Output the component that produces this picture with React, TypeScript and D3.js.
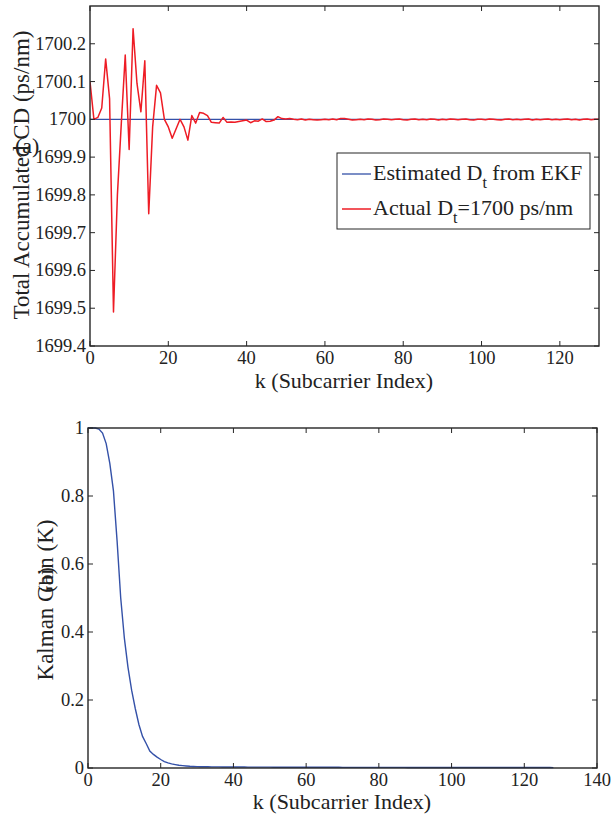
import React from "react";
import * as d3 from "d3";

// ---------- data ----------
const actualDt: number[] = [
  1700.10, 1700.00, 1700.005, 1700.03, 1700.16, 1700.055, 1699.49, 1699.80, 1699.99, 1700.17,
  1699.92, 1700.24, 1700.095, 1700.02, 1700.155, 1699.75, 1699.98, 1700.09, 1700.07, 1700.00,
  1699.98, 1699.95, 1699.975, 1700.00, 1699.98, 1699.945, 1700.01, 1699.99, 1700.018, 1700.016,
  1700.01, 1699.992, 1699.991, 1699.99, 1700.005, 1699.992, 1699.993, 1699.992, 1699.994, 1699.996,
  1699.998, 1699.991, 1699.996, 1699.995, 1700.001, 1699.994, 1699.995, 1699.998, 1700.007, 1700.002,
  1700.001, 1700.002, 1700.0, 1699.999, 1700.001, 1699.998, 1700.0, 1699.999, 1699.998, 1699.999,
  1700.0, 1699.999, 1700.001, 1699.999, 1700.002, 1700.002, 1700.0, 1699.998, 1699.999, 1700.0,
  1699.999, 1700.001, 1700.0, 1699.998, 1699.999, 1700.001, 1700.0, 1699.999, 1700.0, 1700.001,
  1699.999, 1699.998, 1700.0, 1700.001, 1699.999, 1700.0, 1699.999, 1700.001, 1700.0, 1699.998,
  1700.0, 1699.999, 1700.001, 1700.0, 1699.999, 1700.0, 1700.001, 1699.999, 1699.998, 1700.0,
  1700.0, 1699.999, 1700.001, 1700.0, 1699.999, 1699.998, 1700.0, 1700.001, 1699.999, 1700.0,
  1699.999, 1700.0, 1700.001, 1699.998, 1700.0, 1699.999, 1700.0, 1700.001, 1699.999, 1700.0,
  1699.999, 1700.0, 1700.001, 1699.999, 1700.0, 1699.998, 1700.0, 1700.001, 1699.999, 1700.0,
  1700.0,
];
const estimatedK: number[] = [0, 130];
const estimatedDt: number[] = [1700, 1700];

const kalmanGain: number[] = [
  1.000, 1.000, 1.000, 0.997, 0.985, 0.954, 0.896, 0.815, 0.668, 0.50,
  0.382, 0.296, 0.229, 0.175, 0.128, 0.093, 0.072, 0.050, 0.040, 0.032,
  0.025, 0.019, 0.015, 0.012, 0.010, 0.008, 0.007, 0.006, 0.005, 0.0045,
  0.004, 0.0038, 0.0036, 0.0035, 0.0034, 0.0033, 0.0032, 0.0031, 0.0030, 0.0030,
  0.0029, 0.0029, 0.0028, 0.0028, 0.0027, 0.0027, 0.0026, 0.0026, 0.0025, 0.0025,
  0.0025, 0.0024, 0.0024, 0.0024, 0.0023, 0.0023, 0.0023, 0.0022, 0.0022, 0.0022,
  0.0022, 0.0021, 0.0021, 0.0021, 0.0021, 0.0020, 0.0020, 0.0020, 0.0020, 0.0020,
  0.0019, 0.0019, 0.0019, 0.0019, 0.0019, 0.0018, 0.0018, 0.0018, 0.0018, 0.0018,
  0.0018, 0.0017, 0.0017, 0.0017, 0.0017, 0.0017, 0.0017, 0.0017, 0.0016, 0.0016,
  0.0016, 0.0016, 0.0016, 0.0016, 0.0016, 0.0016, 0.0015, 0.0015, 0.0015, 0.0015,
  0.0015, 0.0015, 0.0015, 0.0015, 0.0015, 0.0014, 0.0014, 0.0014, 0.0014, 0.0014,
  0.0014, 0.0014, 0.0014, 0.0014, 0.0014, 0.0013, 0.0013, 0.0013, 0.0013, 0.0013,
  0.0013, 0.0013, 0.0013, 0.0013, 0.0013, 0.0013, 0.0013, 0.0013, 0.0012,
];

const topXTicks = [0, 20, 40, 60, 80, 100, 120];
const topYTicks = [1699.4, 1699.5, 1699.6, 1699.7, 1699.8, 1699.9, 1700.0, 1700.1, 1700.2];
const botXTicks = [0, 20, 40, 60, 80, 100, 120, 140];
const botYTicks = [0, 0.2, 0.4, 0.6, 0.8, 1];

const FONT = "'Liberation Serif', 'Times New Roman', serif";
const AX = "#262626";
const BLUE = "#3451a8";
const RED = "#ee1c25";
const TICK_FS = 18.5;
const LAB_FS = 22;
const YLAB_FS = 23;
const TL = 5;

function Frame({ x, y, xt, yt, xfmt, yfmt }: any) {
  const [x0, x1] = x.range();
  const [y0, y1] = y.range(); // y0 bottom, y1 top
  return (
    <g>
      {xt.map((t: number) => (
        <g key={"x" + t}>
          <line x1={x(t)} x2={x(t)} y1={y0} y2={y0 - TL} stroke={AX} strokeWidth={1} />
          <line x1={x(t)} x2={x(t)} y1={y1} y2={y1 + TL} stroke={AX} strokeWidth={1} />
          <text x={x(t)} y={y0 + 18} textAnchor="middle" fontSize={TICK_FS} fontFamily={FONT} fill="#222">
            {xfmt(t)}
          </text>
        </g>
      ))}
      {yt.map((t: number) => (
        <g key={"y" + t}>
          <line x1={x0} x2={x0 + TL} y1={y(t)} y2={y(t)} stroke={AX} strokeWidth={1} />
          <line x1={x1} x2={x1 - TL} y1={y(t)} y2={y(t)} stroke={AX} strokeWidth={1} />
          <text x={x0 - 4} y={y(t) + 6} textAnchor="end" fontSize={TICK_FS} fontFamily={FONT} fill="#222">
            {yfmt(t)}
          </text>
        </g>
      ))}
      <rect x={x0} y={y1} width={x1 - x0} height={y0 - y1} fill="none" stroke={AX} strokeWidth={1.4} />
    </g>
  );
}

export default function App() {
  const xT = d3.scaleLinear().domain([0, 130]).range([90, 599]);
  const yT = d3.scaleLinear().domain([1699.4, 1700.3]).range([346, 6]);
  const xB = d3.scaleLinear().domain([0, 140]).range([88, 597]);
  const yB = d3.scaleLinear().domain([0, 1]).range([768, 428]);

  const kTop = d3.range(actualDt.length);
  const kBot = d3.range(kalmanGain.length);

  const lineActual = d3
    .line<number>()
    .x((i) => xT(kTop[i]))
    .y((i) => yT(actualDt[i]));
  const lineEst = d3
    .line<number>()
    .x((i) => xT(estimatedK[i]))
    .y((i) => yT(estimatedDt[i]));
  const lineK = d3
    .line<number>()
    .x((i) => xB(kBot[i]))
    .y((i) => yB(kalmanGain[i]));

  const fmtTopY = (v: number) => (Math.abs(v - 1700) < 1e-9 ? "1700" : d3.format(".1f")(v));
  const fmtBotY = (v: number) => (v === 0 ? "0" : v === 1 ? "1" : d3.format(".1f")(v));
  const fmtX = (v: number) => String(v);

  return (
    <svg
      width={613}
      height={815}
      style={{ position: "absolute", left: 0, top: 0, background: "#fff" }}
    >
      <rect width={613} height={815} fill="#fff" />
      {/* top plot */}
      <defs>
        <clipPath id="clipT">
          <rect x={90} y={6} width={509} height={340} />
        </clipPath>
      </defs>
      <g clipPath="url(#clipT)">
        <path d={lineEst(d3.range(estimatedK.length)) || ""} fill="none" stroke={BLUE} strokeWidth={1.3} />
        <path d={lineActual(kTop) || ""} fill="none" stroke={RED} strokeWidth={1.5} strokeLinejoin="round" />
      </g>
      <Frame x={xT} y={yT} xt={topXTicks} yt={topYTicks} xfmt={fmtX} yfmt={fmtTopY} />
      <text x={344} y={388} textAnchor="middle" fontSize={LAB_FS} fontFamily={FONT} fill="#222">
        k (Subcarrier Index)
      </text>
      <text
        transform="translate(28.5,175) rotate(-90)"
        textAnchor="middle"
        fontSize={YLAB_FS}
        fontFamily={FONT}
        fill="#222"
      >
        Total Accumulated CD (ps/nm)
      </text>
      <text x={15} y={153} fontSize={LAB_FS} fontFamily={FONT} fill="#222">
        (a)
      </text>

      {/* legend */}
      <g>
        <rect x={337} y={153} width={253} height={76} fill="#fff" stroke={AX} strokeWidth={1} />
        <line x1={342} x2={371} y1={174} y2={174} stroke={BLUE} strokeWidth={1.3} />
        <line x1={342} x2={371} y1={209} y2={209} stroke={RED} strokeWidth={1.5} />
        <text x={373} y={180} fontSize={LAB_FS} fontFamily={FONT} fill="#222">
          Estimated D
          <tspan dy={8} fontSize={16}>t</tspan>
          <tspan dy={-8}> from EKF</tspan>
        </text>
        <text x={373} y={215} fontSize={LAB_FS} fontFamily={FONT} fill="#222">
          Actual D
          <tspan dy={8} fontSize={16}>t</tspan>
          <tspan dy={-8}>=1700 ps/nm</tspan>
        </text>
      </g>

      {/* bottom plot */}
      <path d={lineK(kBot) || ""} fill="none" stroke={BLUE} strokeWidth={1.4} />
      <Frame x={xB} y={yB} xt={botXTicks} yt={botYTicks} xfmt={fmtX} yfmt={fmtBotY} />
      <text x={342} y={809} textAnchor="middle" fontSize={LAB_FS} fontFamily={FONT} fill="#222">
        k (Subcarrier Index)
      </text>
      <text
        transform="translate(53,600) rotate(-90)"
        textAnchor="middle"
        fontSize={YLAB_FS}
        fontFamily={FONT}
        fill="#222"
      >
        Kalman Gain (K)
      </text>
      <text
        transform="translate(53,580) rotate(-90)"
        textAnchor="middle"
        fontSize={LAB_FS}
        fontFamily={FONT}
        fill="#222"
      >
        (b)
      </text>
    </svg>
  );
}
